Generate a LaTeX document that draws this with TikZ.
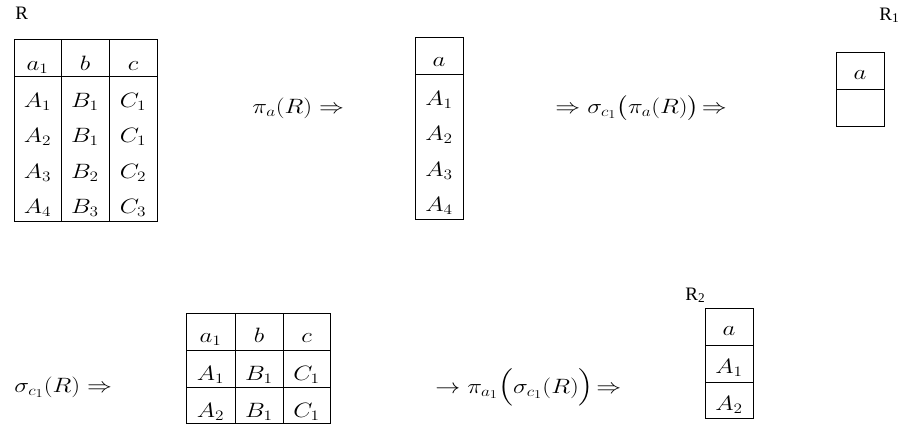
\documentclass[tikz,border=0pt]{standalone}
\usepackage{amsmath}
\usepackage{graphicx}
\usepackage{fontspec}
\setmainfont{Liberation Serif}
\DeclareMathSizes{20}{20}{15}{12}
\newcommand{\mth}[1]{\scalebox{1.2}[1]{$#1$}}
\begin{document}
\begin{tikzpicture}[x=1pt,y=-1pt,line width=0.9pt,
  cell/.style={anchor=base,inner sep=0pt,font=\fontsize{20}{24}\selectfont},
  expr/.style={anchor=base west,inner sep=0pt,font=\fontsize{20}{24}\selectfont},
  lbl/.style={anchor=base west,inner sep=0pt,font=\fontsize{19}{22}\selectfont}]
\useasboundingbox (0,0) rectangle (904,437);
% ---- Table R ----
\node[lbl] (lR) at (15,19) {R};
\draw (14,39) rectangle (157,221);
\draw (14,76) -- (157,76);
\draw (61,39) -- (61,221);
\draw (109,39) -- (109,221);
\node[cell] (r0a) at (37.5,70) {\mth{a_1}};
\node[cell] (r0b) at (85,70) {\mth{b}};
\node[cell] (r0c) at (133,70) {\mth{c}};
\node[cell] (r1a) at (37.5,107) {\mth{A_1}};
\node[cell] (r1b) at (85,107) {\mth{B_1}};
\node[cell] (r1c) at (133,107) {\mth{C_1}};
\node[cell] (r2a) at (37.5,142) {\mth{A_2}};
\node[cell] (r2b) at (85,142) {\mth{B_1}};
\node[cell] (r2c) at (133,142) {\mth{C_1}};
\node[cell] (r3a) at (37.5,178) {\mth{A_3}};
\node[cell] (r3b) at (85,178) {\mth{B_2}};
\node[cell] (r3c) at (133,178) {\mth{C_2}};
\node[cell] (r4a) at (37.5,213) {\mth{A_4}};
\node[cell] (r4b) at (85,213) {\mth{B_3}};
\node[cell] (r4c) at (133,213) {\mth{C_3}};
% ---- expression 1 ----
\node[expr] (e1) at (252,113) {\mth{\pi_a(R)\Rightarrow}};
% ---- Table pi_a ----
\draw (415,37) rectangle (463,219);
\draw (415,74) -- (463,74);
\node[cell] (p0) at (439,66) {\mth{a}};
\node[cell] (p1) at (439,105) {\mth{A_1}};
\node[cell] (p2) at (439,140) {\mth{A_2}};
\node[cell] (p3) at (439,176) {\mth{A_3}};
\node[cell] (p4) at (439,211) {\mth{A_4}};
% ---- expression 2 ----
\node[expr] (e2) at (555,113) {\mth{\Rightarrow\sigma_{c_1}\bigl(\pi_a(R)\bigr)\!\Rightarrow}};
% ---- Table R1 ----
\node[lbl] (lR1) at (879,20) {R\textsubscript{1}};
\draw (836,52) rectangle (884,126);
\draw (836,89) -- (884,89);
\node[cell] (q0) at (860,79) {\mth{a}};
% ---- expression 3 ----
\node[expr] (e3) at (14,392) {\mth{\sigma_{c_1}(R)\Rightarrow}};
% ---- Table sigma ----
\draw (186,313) rectangle (330,423);
\draw (186,350) -- (330,350);
\draw (186,387) -- (330,387);
\draw (235,313) -- (235,423);
\draw (283,313) -- (283,423);
\node[cell] (s0a) at (210.5,342) {\mth{a_1}};
\node[cell] (s0b) at (259,342) {\mth{b}};
\node[cell] (s0c) at (306.5,342) {\mth{c}};
\node[cell] (s1a) at (210.5,380) {\mth{A_1}};
\node[cell] (s1b) at (259,380) {\mth{B_1}};
\node[cell] (s1c) at (306.5,380) {\mth{C_1}};
\node[cell] (s2a) at (210.5,417) {\mth{A_2}};
\node[cell] (s2b) at (259,417) {\mth{B_1}};
\node[cell] (s2c) at (306.5,417) {\mth{C_1}};
% ---- expression 4 ----
\node[expr] (e4) at (435,393) {\mth{\rightarrow\pi_{a_1}\Bigl(\sigma_{c_1}(R)\Bigr)\!\Rightarrow}};
% ---- Table R2 ----
\node[lbl] (lR2) at (685,300) {R\textsubscript{2}};
\draw (705,308) rectangle (753,418);
\draw (705,345) -- (753,345);
\draw (705,382) -- (753,382);
\node[cell] (t0) at (729,335) {\mth{a}};
\node[cell] (t1) at (729,373) {\mth{A_1}};
\node[cell] (t2) at (729,410) {\mth{A_2}};
\end{tikzpicture}
\end{document}
